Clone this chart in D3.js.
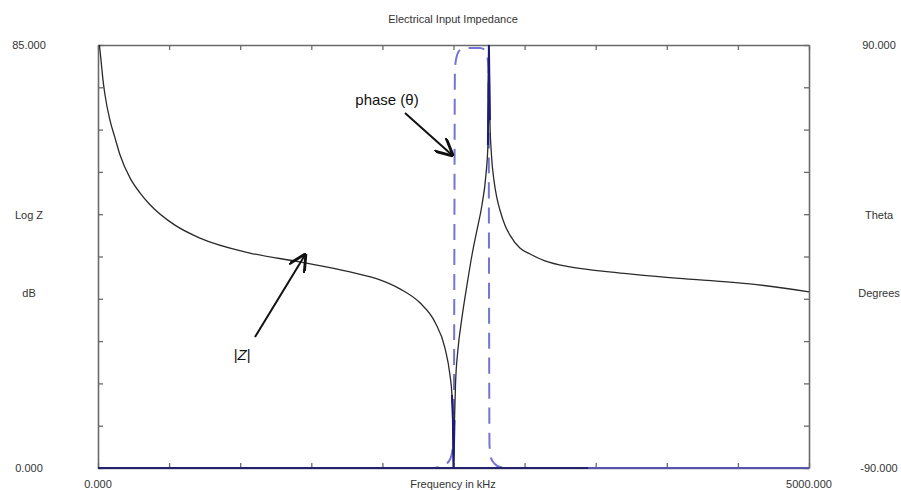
<!DOCTYPE html>
<html><head><meta charset="utf-8">
<script src="https://cdn.jsdelivr.net/npm/d3@7"></script>
<style>
body{margin:0;background:#fff;}
text{font-family:"Liberation Sans",Arial,sans-serif;}
</style></head>
<body>
<svg id="c" width="901" height="490"></svg>
<script>
// ---- data ----
const title = "Electrical Input Impedance";
const xDomain = [0, 5000];
const zDomain = [0, 85];
const phDomain = [-90, 90];
const xTickCount = 10;
const yTickCount = 10;
const leftLabels = ["85.000", "Log Z", "dB", "0.000"];
const rightLabels = ["90.000", "Theta", "Degrees", "-90.000"];
const bottomLabels = ["0.000", "Frequency in kHz", "5000.000"];

// |Z| in dB vs frequency (kHz)
const zFreq = [10, 21, 35, 49, 84, 120, 155, 225, 295, 366, 541, 717, 1069, 1420, 1772, 1983, 2123, 2264, 2370, 2440, 2475, 2489, 2496, 2500, 2507, 2514, 2531, 2559, 2595, 2630, 2665, 2700, 2728, 2742, 2749, 2756, 2767, 2784, 2805, 2827, 2862, 2897, 2967, 3038, 3143, 3319, 3530, 3881, 4233, 4584, 5000];
const zDb   = [85, 82.0, 78.0, 75.0, 69.9, 66.3, 62.9, 58.3, 55.3, 52.9, 48.8, 46.2, 43.2, 41.4, 39.4, 37.8, 36.0, 33.2, 29.3, 24.1, 18.7, 14.7, 9.6, 0, 9.6, 16.7, 23.7, 30.1, 36.8, 42.8, 47.8, 52.8, 58.9, 64.9, 85, 69.9, 62.9, 57.9, 54.3, 51.8, 48.8, 46.8, 44.2, 43.0, 41.6, 40.4, 39.6, 38.6, 37.8, 37.0, 35.4];

// phase in degrees vs frequency (kHz)
const phFreq = [0, 2330, 2400, 2450, 2480, 2497, 2503, 2510, 2520, 2545, 2580, 2686, 2721, 2739, 2746, 2753, 2763, 2791, 2827, 2900, 5000];
const phDeg  = [-90, -90, -89.6, -88.3, -85.7, -80.2, -61, 79.4, 84.5, 87.9, 88.7, 88.7, 87.9, 84.5, 79.4, -80, -85.7, -88.3, -89.6, -90, -90];

// solid phase baseline segments
const baseFreq = [0, 3450, 5000];

// annotations
const annPhase = "phase (θ)";
const annZ = "|Z|";

// ---- drawing ----
const svg = d3.select("#c");
const L = 98, R = 809, T = 45, B = 468;
const x = d3.scaleLinear().domain(xDomain).range([L, R]);
const yZ = d3.scaleLinear().domain(zDomain).range([B, T]);
const yP = d3.scaleLinear().domain(phDomain).range([B, T]);

const axisCol = "#6a6a6a", txtCol = "#333";
const fs = 11;

svg.append("text").attr("x", 453).attr("y", 23).attr("text-anchor", "middle")
  .attr("font-size", fs).attr("fill", txtCol).text(title);

const xt = d3.range(xTickCount + 1).map(i => xDomain[0] + i * (xDomain[1] - xDomain[0]) / xTickCount);
const yt = d3.range(yTickCount + 1).map(i => zDomain[0] + i * (zDomain[1] - zDomain[0]) / yTickCount);

function styleAxis(g) {
  g.selectAll("path").attr("stroke", axisCol).attr("stroke-width", 1.6);
  g.selectAll("line").attr("stroke", axisCol).attr("stroke-width", 1.3);
  g.selectAll("text").remove();
}
svg.append("g").attr("transform", `translate(${L},0)`)
  .call(d3.axisLeft(yZ).tickValues(yt).tickSize(-5).tickSizeOuter(0).tickFormat("")).call(styleAxis);
svg.append("g").attr("transform", `translate(${R},0)`)
  .call(d3.axisRight(yZ).tickValues(yt).tickSize(-5).tickSizeOuter(0).tickFormat("")).call(styleAxis);
svg.append("g").attr("transform", `translate(0,${T})`)
  .call(d3.axisTop(x).tickValues(xt).tickSize(-5).tickSizeOuter(0).tickFormat("")).call(styleAxis);
svg.append("g").attr("transform", `translate(0,${B})`)
  .call(d3.axisBottom(x).tickValues(xt).tickSize(-5).tickSizeOuter(0).tickFormat("")).call(styleAxis);

// axis labels
const lY = [T, 215, 293, B];
leftLabels.forEach((t, i) => svg.append("text").attr("x", 29).attr("y", lY[i]).attr("dy", "0.35em")
  .attr("text-anchor", "middle").attr("font-size", fs).attr("fill", txtCol).text(t));
rightLabels.forEach((t, i) => svg.append("text").attr("x", 879).attr("y", lY[i]).attr("dy", "0.35em")
  .attr("text-anchor", "middle").attr("font-size", fs).attr("fill", txtCol).text(t));
const bX = [x(xDomain[0]), 453, x(xDomain[1])];
bottomLabels.forEach((t, i) => svg.append("text").attr("x", bX[i]).attr("y", 484).attr("dy", "0.35em")
  .attr("text-anchor", "middle").attr("font-size", fs).attr("fill", txtCol).text(t));

// phase dashed
const phData = phFreq.map((f, i) => [f, phDeg[i]]);
svg.append("path").datum(phData)
  .attr("d", d3.line().x(d => x(d[0])).y(d => yP(d[1])).curve(d3.curveMonotoneX))
  .attr("fill", "none").attr("stroke", "#7474d2").attr("stroke-width", 2)
  .attr("stroke-dasharray", "16,9");

// phase solid baseline (-90)
svg.append("line").attr("x1", x(baseFreq[0])).attr("x2", x(baseFreq[1]))
  .attr("y1", yP(-90)).attr("y2", yP(-90)).attr("stroke", "#22226e").attr("stroke-width", 2.2);
svg.append("line").attr("x1", x(baseFreq[1])).attr("x2", x(baseFreq[2]))
  .attr("y1", yP(-90)).attr("y2", yP(-90)).attr("stroke", "#5656b0").attr("stroke-width", 1.8);

// |Z| curve
const zData = zFreq.map((f, i) => [f, zDb[i]]);
svg.append("path").datum(zData)
  .attr("d", d3.line().x(d => x(d[0])).y(d => yZ(d[1])).curve(d3.curveMonotoneX))
  .attr("fill", "none").attr("stroke", "#2a2a2a").attr("stroke-width", 1.3);
// extreme parts drawn in navy
svg.append("path").datum(zData)
  .attr("d", d3.line().defined(d => d[1] < 16 || (d[0] > 2700 && d[1] > 64)).x(d => x(d[0])).y(d => yZ(d[1])))
  .attr("fill", "none").attr("stroke", "#1c1c78").attr("stroke-width", 2);

// annotations
const defs = svg.append("defs");
defs.append("marker").attr("id", "ah").attr("viewBox", "0 0 10 10").attr("refX", 9).attr("refY", 5)
  .attr("markerWidth", 9).attr("markerHeight", 9).attr("orient", "auto")
  .append("path").attr("d", "M0,0 L10,5 L0,10").attr("fill", "none").attr("stroke", "#111").attr("stroke-width", 1.6);

svg.append("text").attr("x", 387).attr("y", 100).attr("dy", "0.35em").attr("text-anchor", "middle")
  .attr("font-family", "Carlito, 'Open Sans', sans-serif").attr("font-size", 15).attr("fill", "#111").text(annPhase);
svg.append("line").attr("x1", 405).attr("y1", 113).attr("x2", 452).attr("y2", 155)
  .attr("stroke", "#111").attr("stroke-width", 2).attr("marker-end", "url(#ah)");

svg.append("text").attr("x", 242).attr("y", 355).attr("dy", "0.35em").attr("text-anchor", "middle")
  .attr("font-family", "'DejaVu Serif', 'Liberation Serif', serif").attr("font-style", "italic")
  .attr("font-size", 15).attr("fill", "#111").text(annZ);
svg.append("line").attr("x1", 255).attr("y1", 337).attr("x2", 305).attr("y2", 255)
  .attr("stroke", "#111").attr("stroke-width", 2).attr("marker-end", "url(#ah)");
</script>
</body></html>
